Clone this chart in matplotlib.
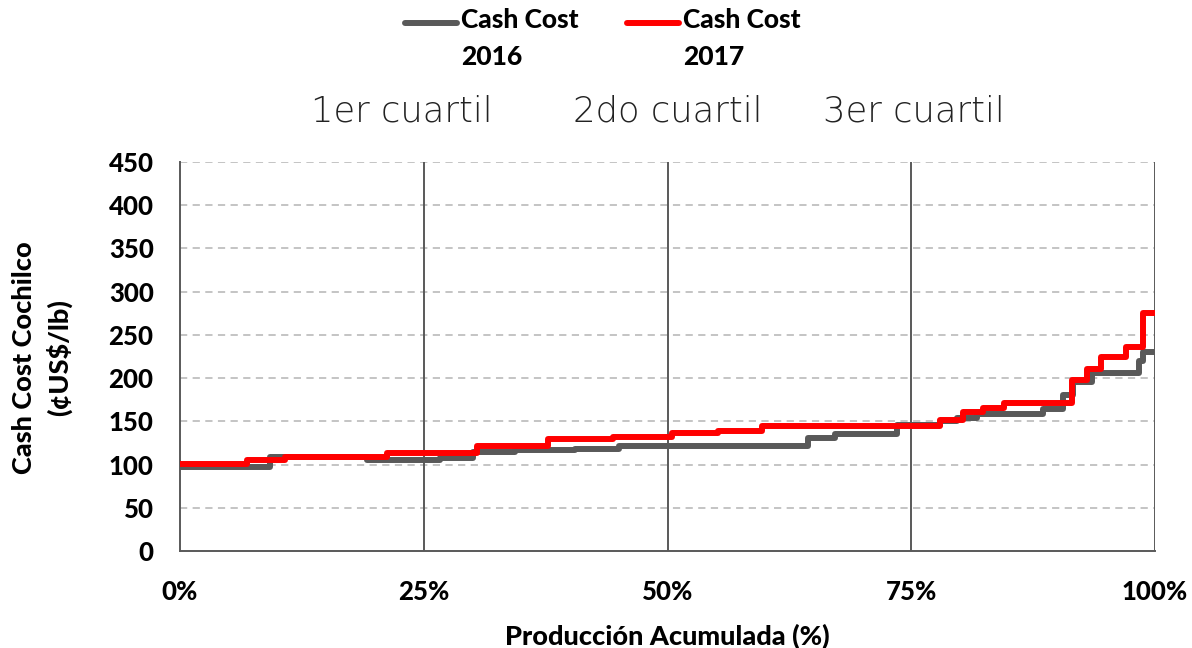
import matplotlib
matplotlib.use("Agg")
import matplotlib.pyplot as plt
from matplotlib.lines import Line2D
from matplotlib.ticker import FuncFormatter

# cumulative production (%) where each step starts, and cash cost (cUS$/lb)
x_2016 = [0, 9.2, 19.2, 26.7, 30.0, 34.4, 40.5, 45.0, 64.4, 67.2, 73.5, 77.9,
          79.7, 81.7, 88.5, 90.6, 91.6, 93.5, 97.9, 98.4, 98.8, 100]
cost_2016 = [97, 109, 105, 108, 114, 117, 118, 122, 131, 135, 146, 150,
             154, 158, 164, 181, 195, 206, 206, 220, 230, 230]

x_2017 = [0, 6.9, 10.8, 21.2, 30.5, 37.7, 44.4, 50.5, 55.2, 59.7, 77.9, 80.3,
          82.4, 84.5, 91.5, 93.0, 94.5, 97.0, 98.8, 100]
cost_2017 = [101, 105, 109, 113, 121, 130, 132, 136, 139, 145, 152, 161,
             166, 171, 198, 211, 224, 236, 275, 275]

series_labels = ["Cash Cost\n2016", "Cash Cost\n2017"]
quartiles = [25, 50, 75, 100]
quartile_labels = ["1er cuartil", "2do cuartil", "3er cuartil"]
quartile_label_x = [22.8, 50, 75.3]
y_ticks = list(range(0, 451, 50))
x_ticks = [0, 25, 50, 75, 100]

bold_font = "Lato"
heavy = 900
dark_gray = "#595959"
colors = [dark_gray, "#ff0000"]

fig = plt.figure(figsize=(11.92, 6.48), dpi=100)
ax = fig.add_axes([180 / 1192, 1 - 551 / 648, 975 / 1192, 389 / 648])

for v in y_ticks[1:]:
    ax.axhline(v, color="#bfbfbf", lw=1.3, ls=(0, (4, 3)), zorder=1)
for q in quartiles:
    ax.axvline(q, color=dark_gray, lw=1.4, zorder=1)

ax.step(x_2016, cost_2016, where="post", color=colors[0], lw=4.3, zorder=3)
ax.step(x_2017, cost_2017, where="post", color=colors[1], lw=4.3, zorder=4)

ax.set_xlim(0, 100)
ax.set_ylim(0, 450)
ax.set_xticks(x_ticks)
ax.set_yticks(y_ticks)
ax.xaxis.set_major_formatter(FuncFormatter(lambda v, p: f"{v:.0f}%"))
ax.tick_params(length=0, labelsize=18.5)
ax.tick_params(axis="x", pad=21)
ax.tick_params(axis="y", pad=19)
for lab in ax.get_xticklabels() + ax.get_yticklabels():
    lab.set_fontfamily(bold_font)
    lab.set_fontweight(heavy)

for side in ["top", "right"]:
    ax.spines[side].set_visible(False)
for side in ["left", "bottom"]:
    ax.spines[side].set_color(dark_gray)
    ax.spines[side].set_linewidth(1.4)

for xq, txt in zip(quartile_label_x, quartile_labels):
    ax.text(xq, 1.13, txt, transform=ax.get_xaxis_transform(), ha="center",
            va="center", fontsize=25.5, fontweight=200, family="DejaVu Sans",
            color="#222222")

ax.set_xlabel("Producción Acumulada (%)", fontsize=19.5, fontweight=heavy,
              family=bold_font, labelpad=14)
fig.text(42 / 1192, 1 - 358 / 648, "Cash Cost Cochilco\n(¢US$/lb)", rotation=90,
         ha="center", va="center", fontsize=19.5, fontweight=heavy,
         family=bold_font, multialignment="center", linespacing=1.45)

# legend: short line at the level of the first text line
legend_x = [405 / 1192, 627 / 1192]
for lx, col, lab in zip(legend_x, colors, series_labels):
    fig.add_artist(Line2D([lx, lx + 52 / 1192], [1 - 23 / 648] * 2,
                          color=col, lw=4.3, solid_capstyle="round"))
    fig.text(lx + 56 / 1192, 1 - 8 / 648, lab, ha="left", va="top",
             fontsize=19, fontweight=heavy, family=bold_font,
             linespacing=1.65, transform=fig.transFigure)

fig.savefig("out.png", dpi=100)
